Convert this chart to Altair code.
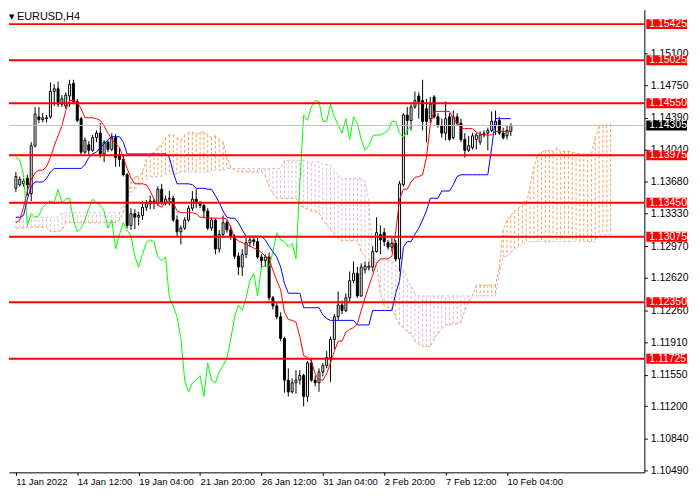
import json
import altair as alt
import pandas as pd

# EURUSD H4 candles, bar 0 = 11 Jan 2022 20:00, bar 129 = 10 Feb 08:00
opens = [
    1.1361, 1.1365, 1.1366, 1.1372, 1.1355, 1.1408, 1.1440, 1.1437, 1.1438, 1.1440,
    1.1468, 1.1471, 1.1454, 1.1452, 1.1463, 1.1477, 1.1457, 1.1438, 1.1401, 1.1409,
    1.1403, 1.1417, 1.1422, 1.1399, 1.1412, 1.1404, 1.1417, 1.1398, 1.1393, 1.1376,
    1.1320, 1.1333, 1.1329, 1.1331, 1.1340, 1.1344, 1.1347, 1.1345, 1.1360, 1.1345,
    1.1349, 1.1350, 1.1326, 1.1313, 1.1317, 1.1326, 1.1339, 1.1349, 1.1345, 1.1342,
    1.1336, 1.1317, 1.1326, 1.1294, 1.1310, 1.1323, 1.1315, 1.1308, 1.1286, 1.1274,
    1.1288, 1.1301, 1.1304, 1.1302, 1.1285, 1.1281, 1.1285, 1.1240, 1.1231, 1.1219,
    1.1195, 1.1149, 1.1136, 1.1146, 1.1149, 1.1154, 1.1131, 1.1168, 1.1149, 1.1146,
    1.1158, 1.1165, 1.1174, 1.1194, 1.1219, 1.1232, 1.1226, 1.1240, 1.1259, 1.1267,
    1.1242, 1.1271, 1.1273, 1.1274, 1.1291, 1.1310, 1.1312, 1.1301, 1.1296, 1.1300,
    1.1283, 1.1365, 1.1442, 1.1436, 1.1451, 1.1463, 1.1458, 1.1449, 1.1438, 1.1462,
    1.1440, 1.1430, 1.1422, 1.1440, 1.1417, 1.1440, 1.1433, 1.1415, 1.1403, 1.1406,
    1.1415, 1.1412, 1.1420, 1.1422, 1.1425, 1.1431, 1.1436, 1.1422, 1.1419, 1.1424,
]
highs = [
    1.1379, 1.1374, 1.1372, 1.1376, 1.1412, 1.1451, 1.1451, 1.1444, 1.1442, 1.1478,
    1.1476, 1.1479, 1.1464, 1.1467, 1.1481, 1.1481, 1.1460, 1.1440, 1.1417, 1.1413,
    1.1420, 1.1425, 1.1433, 1.1414, 1.1414, 1.1422, 1.1421, 1.1406, 1.1398, 1.1378,
    1.1339, 1.1338, 1.1335, 1.1347, 1.1348, 1.1353, 1.1349, 1.1363, 1.1366, 1.1353,
    1.1358, 1.1353, 1.1331, 1.1320, 1.1329, 1.1342, 1.1358, 1.1360, 1.1347, 1.1344,
    1.1339, 1.1329, 1.1328, 1.1315, 1.1331, 1.1326, 1.1320, 1.1310, 1.1290, 1.1294,
    1.1306, 1.1308, 1.1308, 1.1306, 1.1288, 1.1288, 1.1290, 1.1242, 1.1235, 1.1224,
    1.1197, 1.1162, 1.1151, 1.1160, 1.1160, 1.1156, 1.1170, 1.1172, 1.1154, 1.1162,
    1.1168, 1.1181, 1.1197, 1.1222, 1.1247, 1.1237, 1.1245, 1.1269, 1.1280, 1.1274,
    1.1278, 1.1280, 1.1280, 1.1297, 1.1329, 1.1320, 1.1317, 1.1304, 1.1306, 1.1304,
    1.1369, 1.1444, 1.1451, 1.1454, 1.1468, 1.1467, 1.1481, 1.1460, 1.1462, 1.1464,
    1.1444, 1.1438, 1.1457, 1.1444, 1.1447, 1.1444, 1.1438, 1.1422, 1.1419, 1.1422,
    1.1422, 1.1424, 1.1425, 1.1428, 1.1446, 1.1447, 1.1440, 1.1428, 1.1430, 1.1433,
]
lows = [
    1.1357, 1.1363, 1.1363, 1.1353, 1.1347, 1.1406, 1.1433, 1.1434, 1.1434, 1.1438,
    1.1452, 1.1451, 1.1451, 1.1449, 1.1451, 1.1454, 1.1434, 1.1398, 1.1399, 1.1398,
    1.1401, 1.1412, 1.1395, 1.1390, 1.1401, 1.1402, 1.1385, 1.1385, 1.1374, 1.1317,
    1.1315, 1.1316, 1.1320, 1.1326, 1.1336, 1.1338, 1.1338, 1.1342, 1.1343, 1.1342,
    1.1342, 1.1324, 1.1308, 1.1299, 1.1315, 1.1324, 1.1336, 1.1339, 1.1339, 1.1328,
    1.1315, 1.1314, 1.1288, 1.1290, 1.1308, 1.1312, 1.1304, 1.1283, 1.1265, 1.1264,
    1.1284, 1.1297, 1.1297, 1.1283, 1.1272, 1.1274, 1.1237, 1.1227, 1.1216, 1.1192,
    1.1135, 1.1131, 1.1134, 1.1134, 1.1144, 1.1120, 1.1125, 1.1147, 1.1142, 1.1136,
    1.1153, 1.1162, 1.1147, 1.1183, 1.1215, 1.1222, 1.1224, 1.1235, 1.1256, 1.1240,
    1.1241, 1.1267, 1.1270, 1.1269, 1.1290, 1.1288, 1.1297, 1.1293, 1.1291, 1.1280,
    1.1269, 1.1363, 1.1420, 1.1425, 1.1449, 1.1438, 1.1425, 1.1412, 1.1433, 1.1438,
    1.1428, 1.1417, 1.1414, 1.1413, 1.1415, 1.1430, 1.1412, 1.1395, 1.1401, 1.1404,
    1.1404, 1.1409, 1.1417, 1.1403, 1.1423, 1.1420, 1.1420, 1.1415, 1.1415, 1.1419,
]
closes = [
    1.1374, 1.1371, 1.1369, 1.1365, 1.1408, 1.1443, 1.1437, 1.1439, 1.1439, 1.1468,
    1.1471, 1.1454, 1.1460, 1.1464, 1.1476, 1.1457, 1.1436, 1.1401, 1.1414, 1.1403,
    1.1417, 1.1422, 1.1399, 1.1412, 1.1404, 1.1417, 1.1395, 1.1393, 1.1376, 1.1320,
    1.1333, 1.1329, 1.1331, 1.1340, 1.1344, 1.1347, 1.1345, 1.1360, 1.1345, 1.1349,
    1.1350, 1.1326, 1.1313, 1.1317, 1.1326, 1.1339, 1.1349, 1.1345, 1.1342, 1.1336,
    1.1317, 1.1326, 1.1294, 1.1310, 1.1323, 1.1315, 1.1308, 1.1286, 1.1274, 1.1288,
    1.1301, 1.1304, 1.1302, 1.1285, 1.1281, 1.1285, 1.1240, 1.1231, 1.1219, 1.1195,
    1.1149, 1.1136, 1.1146, 1.1149, 1.1154, 1.1131, 1.1168, 1.1149, 1.1146, 1.1158,
    1.1165, 1.1174, 1.1194, 1.1219, 1.1232, 1.1226, 1.1240, 1.1259, 1.1267, 1.1242,
    1.1274, 1.1275, 1.1275, 1.1291, 1.1312, 1.1304, 1.1302, 1.1296, 1.1300, 1.1283,
    1.1366, 1.1442, 1.1436, 1.1451, 1.1458, 1.1457, 1.1435, 1.1435, 1.1454, 1.1440,
    1.1431, 1.1422, 1.1438, 1.1415, 1.1440, 1.1433, 1.1415, 1.1403, 1.1408, 1.1419,
    1.1420, 1.1420, 1.1422, 1.1425, 1.1435, 1.1435, 1.1422, 1.1417, 1.1425, 1.14305,
]

# Ichimoku lines, one value per bar
tenkan = [
    1.1323, 1.1326, 1.1340, 1.1358, 1.1371, 1.1378, 1.1381, 1.1381, 1.1385, 1.1395,
    1.1408, 1.1419, 1.1430, 1.1447, 1.1458, 1.1458, 1.1456, 1.1449, 1.1439, 1.1439,
    1.1439, 1.1438, 1.1436, 1.1430, 1.1422, 1.1415, 1.1410, 1.1406, 1.1395, 1.1383,
    1.1372, 1.1366, 1.1366, 1.1366, 1.1365, 1.1358, 1.1349, 1.1342, 1.1340, 1.1346,
    1.1347, 1.1345, 1.1336, 1.1334, 1.1334, 1.1334, 1.1334, 1.1333, 1.1329, 1.1329,
    1.1328, 1.1328, 1.1328, 1.1328, 1.1328, 1.1327, 1.1318, 1.1306, 1.1303, 1.1301,
    1.1299, 1.1297, 1.1295, 1.1293, 1.1290, 1.1286, 1.1283, 1.1270, 1.1259, 1.1249,
    1.1224, 1.1216, 1.1215, 1.1213, 1.1197, 1.1176, 1.1174, 1.1170, 1.1156, 1.1149,
    1.1149, 1.1156, 1.1168, 1.1181, 1.1192, 1.1192, 1.1202, 1.1205, 1.1207, 1.1211,
    1.1226, 1.1240, 1.1253, 1.1265, 1.1278, 1.1283, 1.1283, 1.1283, 1.1286, 1.1313,
    1.1349, 1.1360, 1.1360, 1.1368, 1.1373, 1.1374, 1.1376, 1.1395, 1.1431, 1.1446,
    1.1446, 1.1446, 1.1446, 1.1446, 1.1438, 1.1434, 1.1427, 1.1427, 1.1427, 1.1427,
    1.1423, 1.1421, 1.1420, 1.1420, 1.1420, 1.1424, 1.1424, 1.1424, 1.1424, 1.1424,
]
kijun = [
    1.1329, 1.1329, 1.1331, 1.1349, 1.1363, 1.1368, 1.1368, 1.1368, 1.1372, 1.1379,
    1.1383, 1.1383, 1.1383, 1.1383, 1.1383, 1.1383, 1.1383, 1.1383, 1.1387, 1.1395,
    1.1399, 1.1401, 1.1406, 1.1410, 1.1415, 1.1418, 1.1418, 1.1418, 1.1412, 1.1399,
    1.1399, 1.1399, 1.1399, 1.1399, 1.1399, 1.1399, 1.1399, 1.1399, 1.1399, 1.1399,
    1.1395, 1.1379, 1.1366, 1.1366, 1.1366, 1.1366, 1.1365, 1.1361, 1.1361, 1.1361,
    1.1360, 1.1360, 1.1353, 1.1345, 1.1336, 1.1329, 1.1328, 1.1328, 1.1323, 1.1315,
    1.1308, 1.1308, 1.1308, 1.1308, 1.1308, 1.1304, 1.1297, 1.1291, 1.1285, 1.1274,
    1.1256, 1.1245, 1.1245, 1.1245, 1.1245, 1.1229, 1.1229, 1.1229, 1.1229, 1.1229,
    1.1221, 1.1217, 1.1215, 1.1215, 1.1215, 1.1215, 1.1215, 1.1215, 1.1215, 1.1210,
    1.1210, 1.1210, 1.1210, 1.1226, 1.1226, 1.1226, 1.1226, 1.1226, 1.1226, 1.1245,
    1.1259, 1.1296, 1.1302, 1.1302, 1.1310, 1.1317, 1.1326, 1.1336, 1.1350, 1.1350,
    1.1350, 1.1358, 1.1358, 1.1358, 1.1365, 1.1374, 1.1376, 1.1376, 1.1376, 1.1376,
    1.1376, 1.1376, 1.1376, 1.1376, 1.1406, 1.1438, 1.1438, 1.1438, 1.1438, 1.1438,
]
# Senkou spans run 26 bars past the last candle
span_a = [
    1.1317, 1.1317, 1.1317, 1.1318, 1.1318, 1.1318, 1.1318, 1.1318, 1.1318, 1.1313,
    1.1313, 1.1313, 1.1315, 1.1323, 1.1323, 1.1323, 1.1323, 1.1323, 1.1323, 1.1323,
    1.1323, 1.1323, 1.1323, 1.1323, 1.1323, 1.1323, 1.1323, 1.1326, 1.1334, 1.1347,
    1.1369, 1.1374, 1.1374, 1.1379, 1.1393, 1.1398, 1.1401, 1.1406, 1.1409, 1.1417,
    1.1420, 1.1420, 1.1417, 1.1414, 1.1420, 1.1423, 1.1423, 1.1421, 1.1423, 1.1423,
    1.1420, 1.1417, 1.1419, 1.1415, 1.1412, 1.1395, 1.1385, 1.1381, 1.1379, 1.1379,
    1.1379, 1.1379, 1.1379, 1.1379, 1.1379, 1.1374, 1.1363, 1.1355, 1.1350, 1.1350,
    1.1350, 1.1350, 1.1350, 1.1350, 1.1342, 1.1340, 1.1338, 1.1336, 1.1335, 1.1334,
    1.1326, 1.1320, 1.1315, 1.1310, 1.1306, 1.1303, 1.1303, 1.1303, 1.1303, 1.1303,
    1.1291, 1.1285, 1.1281, 1.1280, 1.1278, 1.1245, 1.1231, 1.1229, 1.1227, 1.1219,
    1.1210, 1.1207, 1.1202, 1.1200, 1.1192, 1.1189, 1.1186, 1.1186, 1.1186, 1.1195,
    1.1200, 1.1206, 1.1210, 1.1210, 1.1211, 1.1211, 1.1213, 1.1226, 1.1235, 1.1242,
    1.1254, 1.1254, 1.1254, 1.1254, 1.1254, 1.1254, 1.1274, 1.1315, 1.1326, 1.1331,
    1.1336, 1.1339, 1.1342, 1.1344, 1.1363, 1.1385, 1.1398, 1.1401, 1.1403, 1.1403,
    1.1402, 1.1406, 1.1401, 1.1402, 1.1402, 1.1401, 1.1400, 1.1399, 1.1399, 1.1398,
    1.1399, 1.1417, 1.1430, 1.1431, 1.1431, 1.1432,
]
span_b = [
    1.1329, 1.1329, 1.1329, 1.1329, 1.1329, 1.1329, 1.1329, 1.1329, 1.1329, 1.1329,
    1.1329, 1.1329, 1.1334, 1.1334, 1.1334, 1.1334, 1.1334, 1.1334, 1.1334, 1.1334,
    1.1334, 1.1334, 1.1334, 1.1334, 1.1334, 1.1334, 1.1334, 1.1334, 1.1342, 1.1349,
    1.1356, 1.1360, 1.1363, 1.1368, 1.1371, 1.1374, 1.1374, 1.1374, 1.1374, 1.1377,
    1.1377, 1.1377, 1.1377, 1.1379, 1.1379, 1.1379, 1.1379, 1.1379, 1.1379, 1.1379,
    1.1379, 1.1381, 1.1381, 1.1381, 1.1381, 1.1383, 1.1383, 1.1383, 1.1383, 1.1383,
    1.1383, 1.1383, 1.1383, 1.1383, 1.1383, 1.1383, 1.1383, 1.1383, 1.1383, 1.1383,
    1.1392, 1.1392, 1.1392, 1.1392, 1.1392, 1.1392, 1.1390, 1.1390, 1.1390, 1.1390,
    1.1387, 1.1387, 1.1387, 1.1381, 1.1376, 1.1372, 1.1372, 1.1372, 1.1372, 1.1372,
    1.1372, 1.1369, 1.1347, 1.1286, 1.1281, 1.1281, 1.1281, 1.1281, 1.1281, 1.1275,
    1.1271, 1.1271, 1.1261, 1.1253, 1.1245, 1.1242, 1.1242, 1.1242, 1.1242, 1.1242,
    1.1242, 1.1242, 1.1242, 1.1242, 1.1242, 1.1242, 1.1242, 1.1242, 1.1242, 1.1242,
    1.1242, 1.1242, 1.1242, 1.1242, 1.1242, 1.1242, 1.1267, 1.1285, 1.1286, 1.1290,
    1.1294, 1.1296, 1.1299, 1.1302, 1.1302, 1.1302, 1.1302, 1.1302, 1.1302, 1.1302,
    1.1302, 1.1302, 1.1302, 1.1302, 1.1302, 1.1302, 1.1302, 1.1302, 1.1302, 1.1302,
    1.1302, 1.1302, 1.1310, 1.1310, 1.1310, 1.1310,
]
CHIKOU_SHIFT = 26

levels = [1.15425, 1.15025, 1.14550, 1.13975, 1.13450, 1.13075, 1.12350, 1.11725]
last_price = 1.14305
price_ticks = [1.15100, 1.14750, 1.14390, 1.14040, 1.13680, 1.13330, 1.12970,
               1.12620, 1.12260, 1.11910, 1.11550, 1.11200, 1.10840, 1.10490]
time_ticks = [0, 16, 32, 48, 64, 80, 96, 112, 128]
time_labels = ["11 Jan 2022", "14 Jan 12:00", "19 Jan 04:00", "21 Jan 20:00",
               "26 Jan 12:00", "31 Jan 04:00", "2 Feb 20:00", "7 Feb 12:00",
               "10 Feb 04:00"]
symbol = "EURUSD,H4"

W, H = 640, 466
FONT = "Liberation Sans"
RED = "#FF0000"
SANDY = "#F4A460"
THISTLE = "#D8BFD8"

bars = list(range(len(closes)))
candles = pd.DataFrame({"bar": bars, "open": opens, "high": highs,
                        "low": lows, "close": closes})
candles["dir"] = ["up" if c >= o else "down" for o, c in zip(opens, closes)]

cloud = pd.DataFrame({"bar": list(range(len(span_a))), "a": span_a, "b": span_b})
cloud["kumo"] = ["up" if a >= b else "down" for a, b in zip(span_a, span_b)]

lines = pd.DataFrame({"bar": bars, "tenkan": tenkan, "kijun": kijun})
chikou = pd.DataFrame({"bar": list(range(len(closes) - CHIKOU_SHIFT)),
                       "chikou": closes[CHIKOU_SHIFT:]})
levels_df = pd.DataFrame({"price": levels})
last_df = pd.DataFrame({"price": [last_price]})
title_df = pd.DataFrame({"t": [symbol], "m": ["\u25bc"]})

x_scale = alt.Scale(domain=[-0.5, 162.5], nice=False, zero=False)
y_scale = alt.Scale(domain=[1.1047, 1.15584], nice=False, zero=False)

x_axis = alt.Axis(values=time_ticks, title=None, grid=False, tickSize=3,
                  labelAlign="left", labelPadding=1, labelOverlap=False,
                  labelFlush=False, labelFontSize=9.5, zindex=0,
                  labelExpr=json.dumps(time_labels) + "[round(datum.value / 16)]")
y_axis = alt.Axis(orient="right", values=price_ticks, format=".5f", title=None,
                  grid=False, tickSize=3, labelPadding=3, labelOverlap=False,
                  labelFlush=False, zindex=0)


def X(f):
    return alt.X(f"{f}:Q", scale=x_scale, axis=x_axis)


def Y(f):
    return alt.Y(f"{f}:Q", scale=y_scale, axis=y_axis)


# cloud: dotted vertical hatch between the spans plus the span lines
hatch = alt.Chart(cloud).mark_rule(strokeDash=[3, 2], strokeWidth=1).encode(
    x=X("bar"), y=Y("a"), y2="b",
    color=alt.Color("kumo:N", scale=alt.Scale(domain=["up", "down"],
                                              range=[SANDY, THISTLE]), legend=None),
)
span_a_line = alt.Chart(cloud).mark_line(color=SANDY, strokeDash=[3, 2], strokeWidth=1).encode(
    x=X("bar"), y=Y("a"))
span_b_line = alt.Chart(cloud).mark_line(color=THISTLE, strokeDash=[3, 2], strokeWidth=1).encode(
    x=X("bar"), y=Y("b"))

wicks = alt.Chart(candles).mark_rule(color="black", strokeWidth=1).encode(
    x=X("bar"), y=Y("low"), y2="high")
bodies = alt.Chart(candles).mark_bar(size=2, stroke="black", strokeWidth=1).encode(
    x=X("bar"), y=Y("open"), y2="close",
    fill=alt.Fill("dir:N", scale=alt.Scale(domain=["up", "down"],
                                           range=["white", "black"]), legend=None),
)

chikou_line = alt.Chart(chikou).mark_line(color="#00FF00", strokeWidth=1).encode(
    x=X("bar"), y=Y("chikou"))
kijun_line = alt.Chart(lines).mark_line(color="#0000FF", strokeWidth=1).encode(
    x=X("bar"), y=Y("kijun"))
tenkan_line = alt.Chart(lines).mark_line(color=RED, strokeWidth=1).encode(
    x=X("bar"), y=Y("tenkan"))

last_line = alt.Chart(last_df).mark_rule(color="#C0C0C0", strokeWidth=1).encode(y=Y("price"))
level_lines = alt.Chart(levels_df).mark_rule(color=RED, strokeWidth=2).encode(y=Y("price"))

# price tags on the right scale, drawn over the axis labels
last_box = alt.Chart(last_df).mark_rule(color="black", strokeWidth=10).encode(
    y=Y("price"), x=alt.value(W + 2), x2=alt.value(W + 43))
last_text = alt.Chart(last_df).mark_text(
    align="left", baseline="middle", color="white", font=FONT, fontSize=10.5
).encode(y=Y("price"), x=alt.value(W + 5), text=alt.Text("price:Q", format=".5f"))
level_boxes = alt.Chart(levels_df).mark_rule(color=RED, strokeWidth=10).encode(
    y=Y("price"), x=alt.value(W + 2), x2=alt.value(W + 43))
level_text = alt.Chart(levels_df).mark_text(
    align="left", baseline="middle", color="white", font=FONT, fontSize=10.5
).encode(y=Y("price"), x=alt.value(W + 5), text=alt.Text("price:Q", format=".5f"))

marker = alt.Chart(title_df).mark_text(
    align="left", baseline="top", color="black", font="DejaVu Sans", fontSize=7
).encode(x=alt.value(0), y=alt.value(3), text="m:N")
title_text = alt.Chart(title_df).mark_text(
    align="left", baseline="top", color="black", font=FONT, fontSize=11
).encode(x=alt.value(8), y=alt.value(1), text="t:N")

chart = alt.layer(
    hatch, span_a_line, span_b_line, wicks, bodies,
    chikou_line, kijun_line, tenkan_line,
    last_line, level_lines, last_box, last_text, level_boxes, level_text,
    marker, title_text,
).properties(
    width=W, height=H, padding=0
).configure_view(
    stroke=None
).configure_axis(
    domainColor="black", tickColor="black", labelColor="black",
    labelFont=FONT, labelFontSize=10.5
)

chart.save("out.html", embed_options={"renderer": "svg", "actions": False})
